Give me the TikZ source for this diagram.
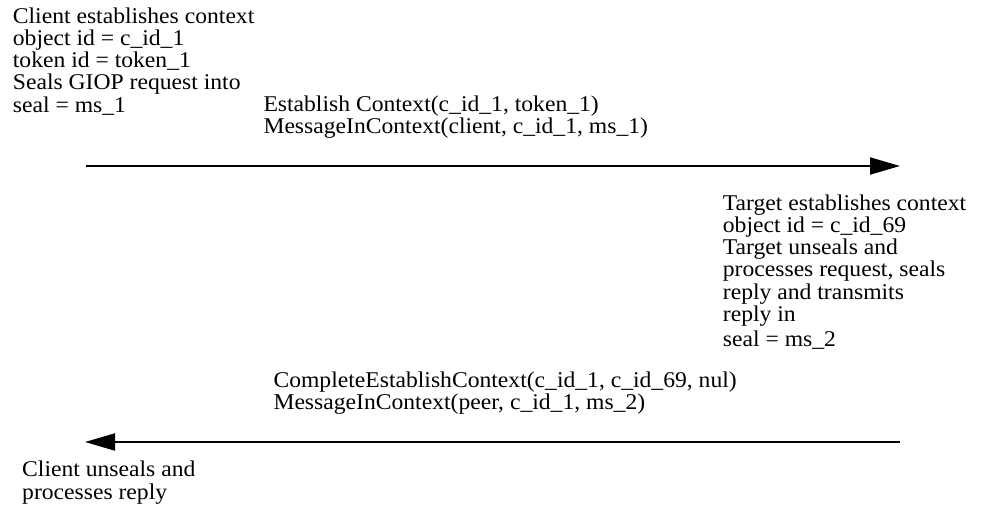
\documentclass[tikz,border=0pt]{standalone}
\usepackage{fontspec}
\setmainfont{Liberation Serif}[FakeStretch=1.05]
\usetikzlibrary{arrows.meta}
\begin{document}
\begin{tikzpicture}[x=1pt,y=-1pt,
  note/.style={anchor=base west,inner sep=0pt,align=left,
    font=\fontsize{22.5}{22.3}\selectfont},
  msg/.style={anchor=base west,inner sep=0pt,align=left,
    font=\fontsize{22.5}{22}\selectfont},
  msgline/.style={line width=2pt,-{Triangle[length=30pt,width=17pt]}}]%
\useasboundingbox (0,0) rectangle (988,522);
% client side, request (nodes sit on the baseline of their last line)
\node[note] (client est) at (12.7,112.2) {Client establishes context\\
  object id = c\_id\_1\\token id = token\_1\\Seals GIOP request into\\
  seal = ms\_1};
\node[msg] (req msg) at (263.3,133) {Establish Context(c\_id\_1, token\_1)\\
  MessageInContext(client, c\_id\_1, ms\_1)};
\coordinate (req start) at (86,166);
\coordinate (req end) at (900,166);
\draw[msgline] (req start) -- (req end);
% target side
\node[note] (target est) at (722.7,346) {Target establishes context\\
  object id = c\_id\_69\\Target unseals and\\processes request, seals\\
  reply and transmits\\reply in\\[2.2pt]seal = ms\_2};
% reply
\node[msg] (rep msg) at (273.3,409) {CompleteEstablishContext(c\_id\_1, c\_id\_69, nul)\\
  MessageInContext(peer, c\_id\_1, ms\_2)};
\coordinate (rep start) at (900,442);
\coordinate (rep end) at (85,442);
\draw[msgline] (rep start) -- (rep end);
\node[note] (client unseal) at (22,499) {Client unseals and\\processes reply};
\end{tikzpicture}
\end{document}
